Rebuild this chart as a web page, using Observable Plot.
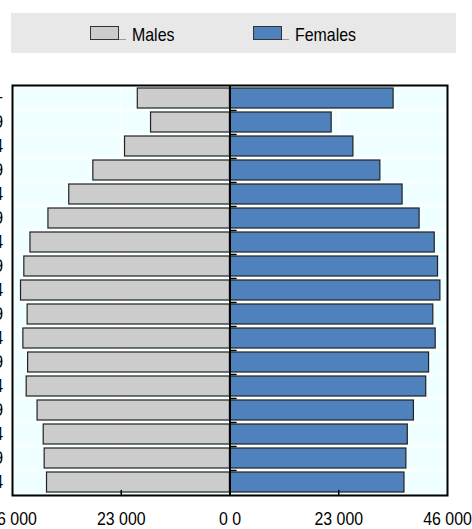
<!DOCTYPE html>
<html><head><meta charset="utf-8">
<script src="https://cdn.jsdelivr.net/npm/d3@7"></script>
<script src="https://cdn.jsdelivr.net/npm/@observablehq/plot@0.6"></script>
<style>
body{margin:0;background:#fff;font-family:"Liberation Sans",Arial,sans-serif;}
#legend{position:relative;margin:13px 0 0 11px;width:445px;height:40px;background:#e8e8e8;}
.sw{position:absolute;top:13px;width:27px;height:12px;border:1px solid #333;}
.tail{position:absolute;top:26px;height:1px;width:7px;background:#999;}
.lab{position:absolute;top:11.8px;font-size:18.5px;line-height:19px;color:#000;white-space:nowrap;transform:scaleX(0.86);transform-origin:0 0;}
#chart svg{display:block;}
</style></head><body>
<div id="legend"></div>
<div id="chart"></div>
<script>
const ages = ["80+","75-79","70-74","65-69","60-64","55-59","50-54","45-49","40-44","35-39","30-34","25-29","20-24","15-19","10-14","5-9","0-4"];
const males = [19500,16700,22200,28900,34000,38400,42200,43500,44200,42800,43700,42700,43000,40700,39400,39200,38700];
const females = [34600,21500,26100,31800,36500,40100,43300,44000,44500,43000,43500,42100,41500,38900,37600,37300,36900];
const series = ["Males","Females"];
const colors = ["#cccccc","#4f81bd"];
const xTicks = [-46000,-23000,0,23000,46000];
const gridTicks = [-23000,23000];

// legend
const legend = document.getElementById("legend");
const legendX = [79, 242];
series.forEach((s,i)=>{
  const sw = document.createElement("div"); sw.className="sw"; sw.style.left=legendX[i]+"px"; sw.style.background=colors[i]; legend.appendChild(sw);
  const t = document.createElement("div"); t.className="tail"; t.style.left=(legendX[i]+29)+"px"; legend.appendChild(t);
  const l = document.createElement("div"); l.className="lab"; l.style.left=(legendX[i]+42)+"px"; l.textContent=s; legend.appendChild(l);
});

const W=472, H=476, mT=32, mB=34, mL=12, mR=25;
const step = (H-mT-mB)/ages.length;
const data = ages.flatMap((a,i)=>[{age:a, sex:series[0], v:-males[i]},{age:a, sex:series[1], v:females[i]}]);
const fmt = d => d===0 ? "0 0" : d3.format(",")(Math.abs(d)).replace(/,/g," ");
const tickLine = {draw(ctx, l){ctx.moveTo(0,0); ctx.lineTo(0,-l);}};
const font = '"Liberation Sans",Arial,sans-serif';

const chart = Plot.plot({
  width:W, height:H, marginTop:mT, marginBottom:mB, marginLeft:mL, marginRight:mR,
  style:{fontFamily:font, fontSize:"18.5px", color:"#000", background:"transparent", overflow:"visible"},
  x:{domain:[-46000,46000]},
  y:{domain:ages, paddingInner:0.17, paddingOuter:0.085},
  color:{domain:series, range:colors},
  marks:[
    Plot.frame({fill:"#f0ffff"}),
    Plot.gridX(gridTicks, {stroke:"white", strokeOpacity:1, strokeWidth:1.5}),
    Plot.ruleY(ages.slice(1), {y:d=>d, dy:-step/2, stroke:"white", strokeWidth:1.5}),
    Plot.barX(data, {x:"v", y:"age", fill:"sex", stroke:"#222", strokeWidth:1.2}),
    Plot.ruleX([0], {stroke:"black", strokeWidth:2}),
    Plot.vector(ages.slice(1), {x:0, y:d=>d, dy:-step/2, rotate:90, length:6, anchor:"start", shape:tickLine, stroke:"black", strokeWidth:1.5}),
    Plot.vector(gridTicks, {x:d=>d, frameAnchor:"bottom", length:5, anchor:"start", shape:tickLine, stroke:"black", strokeWidth:1.5}),
    Plot.frame({stroke:"black", strokeWidth:2}),
    Plot.axisX({ticks:xTicks, tickSize:0, tickPadding:16.5, tickFormat:fmt, label:null}),
    Plot.axisY({tickSize:0, tickPadding:9.5, label:null, fill:"#000"})
  ]
});
// narrow the glyphs (reference uses a condensed face)
chart.querySelectorAll("text").forEach(t=>{
  const tr = t.getAttribute("transform");
  if (tr) t.setAttribute("transform", tr + " scale(0.86,1)");
  else { const x = +t.getAttribute("x")||0; t.setAttribute("transform", `translate(${x},0) scale(0.86,1) translate(${-x},0)`); }
});
document.getElementById("chart").appendChild(chart);
</script>
</body></html>
